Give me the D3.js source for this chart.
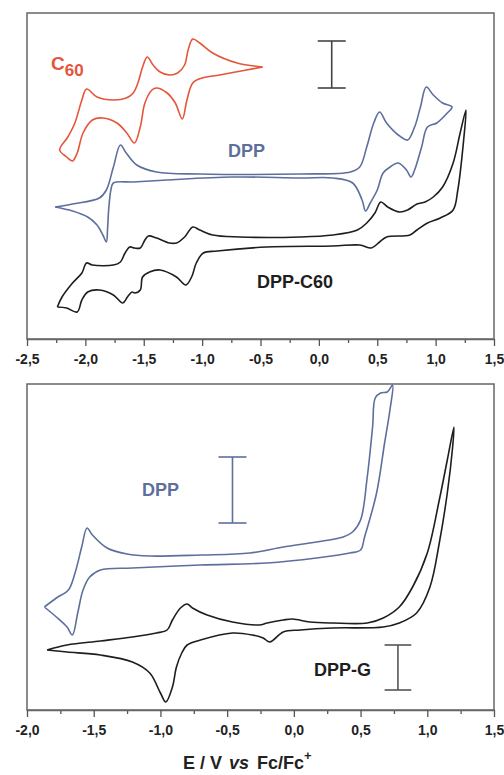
<!DOCTYPE html>
<html>
<head>
<meta charset="utf-8">
<script src="https://cdn.jsdelivr.net/npm/d3@7"></script>
<style>
  body { margin: 0; background: #fff; }
  svg { display: block; font-family: "Liberation Sans", Arial, sans-serif; }
  .lbl { font-weight: bold; }
  .tick text { font-size: 14px; font-weight: bold; fill: #222; font-family: "Liberation Sans", Arial, sans-serif; }
</style>
</head>
<body>
<svg id="chart" width="504" height="775"></svg>
<script>
// potentials in V vs Fc/Fc+, currents in arbitrary units (a.u.)
var c60 = [
  [-0.48,272],[-0.70,276],[-0.91,286],[-1.02,296],[-1.08,300],[-1.12,289],[-1.15,274],[-1.21,266],
  [-1.28,264],[-1.36,267],[-1.42,274],[-1.47,282],[-1.51,272],[-1.55,256],[-1.59,246],[-1.65,241],
  [-1.76,239],[-1.90,242],[-1.99,250],[-2.03,239],[-2.09,216],[-2.15,202],[-2.22,189],
  [-2.16,182],[-2.11,178],[-2.07,186],[-2.02,206],[-1.94,219],[-1.85,221],[-1.73,216],[-1.645,206],
  [-1.58,196],[-1.53,212],[-1.49,236],[-1.43,249],[-1.39,251],[-1.30,246],[-1.23,236],[-1.17,220],
  [-1.13,239],[-1.08,256],[-1.00,261],[-0.85,264],[-0.62,269],[-0.48,272]
];

var dppTop = [
  [-2.26,132],[-2.11,135],[-1.88,141],[-1.82,149],[-1.76,172],[-1.70,194],[-1.65,186],[-1.56,174],
  [-1.39,167],[-1.02,165],[-0.16,165],[0.27,167],[0.35,172],[0.41,192],[0.47,216],[0.52,227],
  [0.58,216],[0.68,204],[0.76,199],[0.82,212],[0.87,232],[0.92,252],[0.98,244],[1.06,236],[1.14,232],
  [1.10,226],[1.01,216],[0.93,212],[0.88,192],[0.82,169],[0.79,162],[0.75,169],[0.68,176],[0.61,172],
  [0.55,166],[0.50,149],[0.44,136],[0.40,128],[0.37,139],[0.29,156],[0.12,161],[-0.16,161],
  [-0.74,162],[-1.30,159],[-1.59,157],[-1.76,156],[-1.78,150],[-1.80,130],[-1.81,110],[-1.82,97],
  [-1.85,104],[-1.90,114],[-1.98,122],[-2.11,128],[-2.26,132]
];

var dppC60 = [
  [-2.24,32],[-2.20,42],[-2.11,56],[-2.03,66],[-1.99,76],[-1.94,74],[-1.76,74],[-1.70,77],
  [-1.66,86],[-1.62,92],[-1.58,91],[-1.53,91],[-1.49,99],[-1.46,103],[-1.39,101],[-1.28,96],
  [-1.22,96],[-1.15,102],[-1.08,112],[-1.02,109],[-0.91,104],[-0.68,102],[-0.16,102],[0.12,104],
  [0.33,109],[0.41,116],[0.48,126],[0.53,137],[0.59,132],[0.69,127],[0.76,129],[0.84,135],
  [0.91,137],[0.98,142],[1.06,152],[1.15,176],[1.21,206],[1.26,229],
  [1.24,199],[1.19,149],[1.15,129],[1.04,121],[0.93,116],[0.84,109],[0.78,104],[0.58,102],
  [0.52,97],[0.45,91],[0.35,94],[0.12,93],[-0.45,92],[-0.87,88],[-0.99,86],[-1.05,76],
  [-1.09,62],[-1.14,54],[-1.22,62],[-1.36,69],[-1.45,67],[-1.51,62],[-1.53,49],[-1.58,46],
  [-1.60,47],[-1.64,42],[-1.68,36],[-1.76,44],[-1.88,49],[-1.98,47],[-2.03,39],[-2.07,27],
  [-2.16,31],[-2.24,32]
];

var dppBottom = [
  [-1.87,103],[-1.78,112],[-1.69,120],[-1.64,137],[-1.59,163],[-1.55,182],[-1.51,175],[-1.40,162],
  [-1.25,156],[-1.08,154],[-0.70,155],[-0.33,157],[-0.08,163],[0.17,168],[0.37,173],[0.44,178],
  [0.50,190],[0.55,233],[0.59,283],[0.61,312],[0.65,317],[0.70,318],[0.74,325],
  [0.72,300],[0.68,267],[0.62,217],[0.53,173],[0.50,160],[0.42,157],[0.17,152],[-0.20,147],
  [-0.70,145],[-1.21,142],[-1.45,140],[-1.53,133],[-1.58,120],[-1.62,97],[-1.66,75],[-1.70,83],
  [-1.78,93],[-1.87,103]
];

var dppG = [
  [-1.85,60],[-1.70,65],[-1.45,69],[-1.21,73],[-1.03,77],[-0.95,80],[-0.91,90],[-0.85,102],
  [-0.80,106],[-0.76,102],[-0.65,95],[-0.46,88],[-0.26,85],[-0.20,87],[-0.08,90],[-0.01,91],
  [0.12,88],[0.29,87],[0.55,87],[0.67,92],[0.79,103],[0.89,123],[1.00,157],[1.09,210],[1.15,250],
  [1.20,283],
  [1.19,263],[1.15,217],[1.09,167],[1.02,123],[0.92,97],[0.79,87],[0.67,83],[0.29,82],[0.05,80],
  [-0.08,78],[-0.18,68],[-0.23,72],[-0.31,75],[-0.46,77],[-0.70,70],[-0.80,65],[-0.84,57],
  [-0.88,43],[-0.91,23],[-0.96,8],[-1.00,17],[-1.08,37],[-1.21,48],[-1.45,55],[-1.70,58],[-1.85,60]
];

// scale bars: [x, y0, y1] in data units
var barsTop = [[0.11, 298, 251]];
var barsBottom = [[-0.46, 253, 187], [0.78, 65, 20]];

var ticksTop = [-2.5, -2.0, -1.5, -1.0, -0.5, 0.0, 0.5, 1.0, 1.5];
var ticksBottom = [-2.0, -1.5, -1.0, -0.5, 0.0, 0.5, 1.0, 1.5];

var red = "#e4553a", blue = "#5e6f9e", black = "#1e1e1e", grey = "#555";

var svg = d3.select("#chart");
var fmt = function(v) { return v.toFixed(1).replace(".", ","); };

function panel(top, bottom, xdom, ticks) {
  var x = d3.scaleLinear().domain(xdom).range([27, 494]);
  var y = d3.scaleLinear().domain([0, 326]).range([bottom, top]);
  var g = svg.append("g");

  g.append("rect")
      .attr("x", 27).attr("y", top)
      .attr("width", 467).attr("height", bottom - top)
      .attr("fill", "none").attr("stroke", "#666").attr("stroke-width", 1.5);

  var minor = d3.range(xdom[0] + 0.25, xdom[1], 0.5);
  g.append("g")
      .attr("transform", "translate(0," + bottom + ")")
      .call(d3.axisBottom(x).tickValues(minor).tickSize(4).tickFormat(""))
      .call(function(a) { a.select(".domain").remove(); });
  var ax = g.append("g")
      .attr("transform", "translate(0," + bottom + ")")
      .call(d3.axisBottom(x).tickValues(ticks).tickSize(7).tickSizeOuter(0).tickPadding(8).tickFormat(fmt));
  ax.select(".domain").attr("stroke", "#666").attr("stroke-width", 1.5);
  g.selectAll(".tick line").attr("stroke", "#555").attr("stroke-width", 1.3);

  var line = d3.line()
      .x(function(d) { return x(d[0]); })
      .y(function(d) { return y(d[1]); })
      .curve(d3.curveCatmullRom.alpha(0.5));

  return { g: g, x: x, y: y, line: line };
}

function curve(p, data, color) {
  p.g.append("path")
      .datum(data)
      .attr("d", p.line)
      .attr("fill", "none")
      .attr("stroke", color)
      .attr("stroke-width", 1.6)
      .attr("stroke-linejoin", "round");
}

function bars(p, data, color, half) {
  data.forEach(function(b) {
    var bg = p.g.append("g").attr("stroke", color).attr("stroke-width", 1.6);
    bg.append("line").attr("x1", p.x(b[0])).attr("x2", p.x(b[0]))
        .attr("y1", p.y(b[1])).attr("y2", p.y(b[2]));
    [b[1], b[2]].forEach(function(v) {
      bg.append("line").attr("x1", p.x(b[0] - half)).attr("x2", p.x(b[0] + half))
          .attr("y1", p.y(v)).attr("y2", p.y(v));
    });
  });
}

// top panel
var p1 = panel(13, 339, [-2.5, 1.5], ticksTop);
curve(p1, c60, red);
curve(p1, dppTop, blue);
curve(p1, dppC60, black);
bars(p1, barsTop, "#444", 0.12);

var c = p1.g.append("text").attr("class", "lbl").attr("x", 51).attr("y", 70)
    .attr("fill", red).attr("font-size", 19);
c.append("tspan").text("C");
c.append("tspan").attr("dy", 6).attr("font-size", 17).text("60");
p1.g.append("text").attr("class", "lbl").attr("x", 228).attr("y", 157)
    .attr("fill", blue).attr("font-size", 18).text("DPP");
p1.g.append("text").attr("class", "lbl").attr("x", 257).attr("y", 288)
    .attr("fill", black).attr("font-size", 18).text("DPP-C60");

// bottom panel
var p2 = panel(384, 710, [-2.0, 1.5], ticksBottom);
curve(p2, dppBottom, blue);
curve(p2, dppG, black);
bars(p2, barsBottom.slice(0, 1), blue, 0.105);
bars(p2, barsBottom.slice(1), grey, 0.10);

p2.g.append("text").attr("class", "lbl").attr("x", 142).attr("y", 496)
    .attr("fill", blue).attr("font-size", 18).text("DPP");
p2.g.append("text").attr("class", "lbl").attr("x", 314).attr("y", 676)
    .attr("fill", black).attr("font-size", 18).text("DPP-G");

// axis title
var t = svg.append("text").attr("class", "lbl").attr("x", 183).attr("y", 769)
    .attr("fill", "#222").attr("font-size", 18);
t.append("tspan").text("E / V");
t.append("tspan").attr("dx", 7).attr("font-style", "italic").text("vs");
t.append("tspan").attr("dx", 8).text("Fc/Fc");
t.append("tspan").attr("dy", -9).attr("font-size", 13).text("+");
</script>
</body>
</html>
